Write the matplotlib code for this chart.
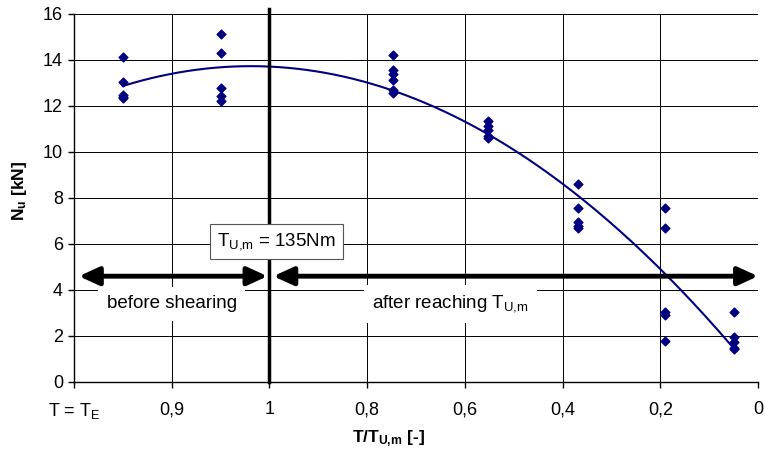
import numpy as np
import matplotlib
matplotlib.use("Agg")
import matplotlib.pyplot as plt

plt.rcParams['font.family'] = ['Liberation Sans', 'DejaVu Sans']
plt.rcParams['mathtext.fontset'] = 'custom'
plt.rcParams['mathtext.rm'] = 'Liberation Sans'
plt.rcParams['mathtext.it'] = 'Liberation Sans'
plt.rcParams['mathtext.bf'] = 'Liberation Sans:bold'

# x positions on the category-like axis (0 = T=T_E, 2 = 1, 7 = 0)
group_x = [0.5, 1.5, 3.26, 4.24, 5.16, 6.05, 6.75]
group_y = [
    [14.15, 13.05, 12.5, 12.4, 12.35],
    [15.15, 14.3, 12.8, 12.45, 12.2],
    [14.2, 13.55, 13.4, 13.15, 12.7, 12.55],
    [11.35, 11.15, 10.95, 10.7, 10.6],
    [8.6, 7.55, 6.95, 6.8, 6.7],
    [7.55, 6.7, 3.05, 2.9, 1.8],
    [3.05, 1.95, 1.75, 1.5, 1.45],
]
tick_labels = [r'T = T$_\mathregular{E}$', '0,9', '1', '0,8', '0,6', '0,4', '0,2', '0']

xs = np.concatenate([[x] * len(ys) for x, ys in zip(group_x, group_y)])
ys = np.concatenate(group_y)

fig = plt.figure(figsize=(7.65, 4.5), dpi=100)
ax = fig.add_axes([74 / 765, 1 - 382 / 450, 684 / 765, 368 / 450])

ax.set_xlim(0, 7)
ax.set_ylim(0, 16)
ax.set_xticks(range(8))
ax.set_xticklabels(tick_labels)
ax.set_yticks(range(0, 17, 2))
ax.tick_params(axis='both', labelsize=13, direction='out', length=4, width=1)
ax.tick_params(axis='x', pad=10)
ax.tick_params(axis='y', pad=4)
ax.grid(True, color='black', linewidth=0.7)
ax.set_axisbelow(True)
for s in ['top', 'right']:
    ax.spines[s].set_visible(False)
ax.spines['left'].set_linewidth(1)
ax.spines['bottom'].set_linewidth(1)

# quadratic trendline through the measured points
coef = np.polyfit(xs, ys, 2)
tx = np.linspace(min(group_x), max(group_x), 200)
ax.plot(tx, np.polyval(coef, tx), color='#000080', lw=1.5, zorder=3)
ax.scatter(xs, ys, marker='D', s=20, color='#000080', zorder=4)

# shear limit line
ax.plot([2, 2], [0, 16.2], color='black', lw=2.5, clip_on=False, zorder=5)

arrow_kw = dict(arrowstyle='<|-|>,head_length=1.2,head_width=0.55', color='black', lw=3.5,
                shrinkA=0, shrinkB=0)
ax.annotate('', xy=(0.05, 4.6), xytext=(1.98, 4.6), arrowprops=arrow_kw, zorder=6)
ax.annotate('', xy=(2.04, 4.6), xytext=(7.0, 4.6), arrowprops=arrow_kw,
            annotation_clip=False, zorder=6)

ax.text(1.0, 3.4, 'before shearing', fontsize=13.5, ha='center', va='center',
        bbox=dict(facecolor='white', edgecolor='none', pad=6), zorder=5)
ax.text(3.85, 3.4, r'after reaching T$_\mathregular{U{,}m}$', fontsize=13.5, ha='center',
        va='center', bbox=dict(facecolor='white', edgecolor='none', pad=6), zorder=5)
ax.text(2.07, 6.1, r'T$_\mathregular{U{,}m}$ = 135Nm', fontsize=13.5, ha='center', va='center',
        bbox=dict(facecolor='white', edgecolor='#555555', lw=0.8, pad=5), zorder=6)

ax.set_xlabel(r'T/T$_\mathbf{U{,}m}$ [-]', fontsize=12.5, fontweight='bold')
ax.xaxis.set_label_coords(0.46, -0.125)
ax.set_ylabel(r'N$_\mathbf{u}$ [kN]', fontsize=12.5, fontweight='bold')
ax.yaxis.set_label_coords(-0.066, 0.52)

fig.savefig('out.png', dpi=100)
